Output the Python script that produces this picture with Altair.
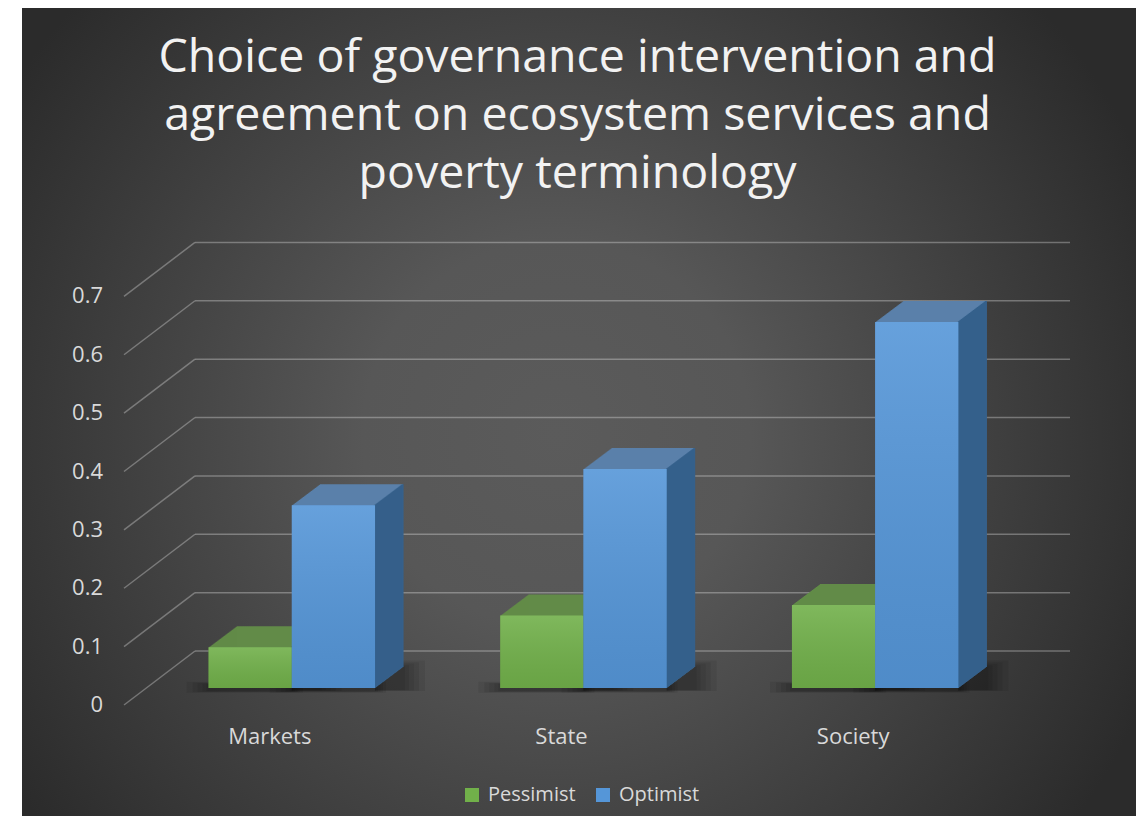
import altair as alt
import pandas as pd

# ---------------- data ----------------
categories = ["Markets", "State", "Society"]
series_names = ["Pessimist", "Optimist"]
pessimist = [0.07, 0.124, 0.142]
optimist = [0.313, 0.375, 0.627]
y_ticks = [0, 0.1, 0.2, 0.3, 0.4, 0.5, 0.6, 0.7]
title_lines = [
    "Choice of governance intervention and",
    "agreement on ecosystem services and",
    "poverty terminology",
]

# ---------------- style ----------------
W, H = 875, 467
PAD = {"left": 138, "top": 213, "right": 115, "bottom": 128}
BW = 0.2853                 # bar width in band units
DEPTH_X, DEPTH_Y = 28, 21   # bar depth (px)
FRONT_DX, FRONT_DY = -22, 17
BACK_DX, BACK_DY = 49, -37
FONT = "Open Sans"
TXT = "#d9d9d9"

front_col = {"Pessimist": "#71b04a", "Optimist": "#5596d8"}
top_col = {"Pessimist": "#628b48", "Optimist": "#5a80aa"}
side_col = {"Pessimist": "#4c7a33", "Optimist": "#35608b"}

rows = []
for i, c in enumerate(categories):
    for s, vals in zip(series_names, [pessimist, optimist]):
        rows.append({"category": c, "series": s, "value": vals[i], "idx": i})
bars = pd.DataFrame(rows)
ticks = pd.DataFrame({"v": y_ticks})
cats = pd.DataFrame({"category": categories, "idx": list(range(len(categories)))})
one = pd.DataFrame({"a": [0]})

xs = alt.Scale(domain=[0, len(categories)], nice=False, zero=False)
ys = alt.Scale(domain=[0, 0.8], nice=False, zero=True)

layers = []

# background with radial gradient
bg_grad = {
    "gradient": "radial",
    "x1": 0.48, "y1": 0.52, "r1": 0,
    "x2": 0.48, "y2": 0.52, "r2": 0.58,
    "stops": [
        {"offset": 0, "color": "#5b5b5b"},
        {"offset": 0.3, "color": "#575757"},
        {"offset": 1, "color": "#2b2b2b"},
    ],
}
layers.append(
    alt.Chart(one).mark_rect(fill=bg_grad).encode(
        x=alt.value(-124), x2=alt.value(W + 115),
        y=alt.value(-213), y2=alt.value(H + 128),
    )
)

# chart title (multi-line text)
layers.append(
    alt.Chart(one).mark_text(
        font=FONT, fontSize=46.5, color="#f2f2f2", align="center",
        baseline="alphabetic", lineHeight=58,
    ).encode(
        x=alt.value(W / 2 - 6), y=alt.value(-149),
        text=alt.value(title_lines),
    )
)

grid_style = dict(color="white", strokeOpacity=0.3, strokeWidth=1.5)
# diagonal (side wall) gridlines
layers.append(
    alt.Chart(ticks).mark_rule(yOffset=FRONT_DY, y2Offset=BACK_DY, **grid_style).encode(
        x=alt.value(FRONT_DX), x2=alt.value(BACK_DX),
        y=alt.Y("v:Q", scale=ys, axis=None), y2="v:Q",
    )
)
# back wall gridlines
layers.append(
    alt.Chart(ticks).mark_rule(yOffset=BACK_DY, **grid_style).encode(
        x=alt.value(BACK_DX), x2=alt.value(W + BACK_DX),
        y=alt.Y("v:Q", scale=ys, axis=None),
    )
)
# y labels
layers.append(
    alt.Chart(ticks).mark_text(align="right", baseline="middle", dy=FRONT_DY,
                               font=FONT, fontSize=22, color=TXT).encode(
        x=alt.value(-43),
        y=alt.Y("v:Q", scale=ys, axis=None),
        text=alt.Text("v:Q", format="~g"),
    )
)

def base(s):
    return alt.Chart(bars).transform_filter(
        f"datum.series == '{s}'"
    ).transform_calculate(
        left=f"datum.idx + 0.5 - (datum.series == 'Pessimist' ? {BW} : 0)",
    ).transform_calculate(
        right=f"datum.left + {BW}",
    )

# soft floor shadow
for s in series_names:
    for m in [22, 16, 11, 6, 2]:
        # band along the front bottom edge
        layers.append(
            base(s).mark_rect(color="black", opacity=0.07, xOffset=-m, x2Offset=m * 0.5,
                              yOffset=3 + m * 0.08, y2Offset=-4 - m * 0.1).encode(
                x=alt.X("left:Q", scale=xs, axis=None), x2="right:Q",
                y=alt.Y(datum=0, scale=ys, axis=None), y2=alt.Y2(datum=0),
            )
        )
        # behind the side face
        layers.append(
            base(s).mark_rect(color="black", opacity=0.07, xOffset=0, x2Offset=DEPTH_X + m,
                              yOffset=2 + m * 0.05, y2Offset=-DEPTH_Y - m * 0.3).encode(
                x=alt.X("right:Q", scale=xs, axis=None), x2="right:Q",
                y=alt.Y(datum=0, scale=ys, axis=None), y2=alt.Y2(datum=0),
            )
        )

shade = {
    "gradient": "linear", "x1": 0, "y1": 0, "x2": 0, "y2": 1,
    "stops": [
        {"offset": 0, "color": "rgba(255,255,255,0.10)"},
        {"offset": 1, "color": "rgba(0,0,0,0.07)"},
    ],
}

for s in series_names:
    # top face (extruded copies)
    for k in range(DEPTH_X + 1):
        dy = -k * DEPTH_Y / DEPTH_X
        layers.append(
            base(s).mark_rect(color=top_col[s], xOffset=k, x2Offset=k,
                              yOffset=dy, y2Offset=dy).encode(
                x=alt.X("left:Q", scale=xs, axis=None), x2="right:Q",
                y=alt.Y("value:Q", scale=ys, axis=None), y2=alt.Y2(datum=0),
            )
        )
    # side face
    for k in range(DEPTH_X + 1):
        dy = -k * DEPTH_Y / DEPTH_X
        layers.append(
            base(s).mark_rect(color=side_col[s], xOffset=k - 1.5, x2Offset=k + 0.5,
                              yOffset=dy, y2Offset=dy).encode(
                x=alt.X("right:Q", scale=xs, axis=None), x2="right:Q",
                y=alt.Y("value:Q", scale=ys, axis=None), y2=alt.Y2(datum=0),
            )
        )
    # front face
    layers.append(
        base(s).mark_rect().encode(
            x=alt.X("left:Q", scale=xs, axis=None), x2="right:Q",
            y=alt.Y("value:Q", scale=ys, axis=None), y2=alt.Y2(datum=0),
            color=alt.Color(
                "series:N",
                scale=alt.Scale(domain=series_names,
                                range=[front_col[n] for n in series_names]),
                legend=alt.Legend(
                    orient="none", legendX=316, legendY=564, direction="horizontal",
                    title=None, symbolType="square", symbolSize=196,
                    symbolStrokeWidth=0, symbolOpacity=1,
                    labelFont=FONT, labelFontSize=20, labelColor=TXT,
                    labelOffset=6, columnPadding=17, padding=0, labelLimit=400,
                ),
            ),
        )
    )
    layers.append(
        base(s).mark_rect(fill=shade).encode(
            x=alt.X("left:Q", scale=xs, axis=None), x2="right:Q",
            y=alt.Y("value:Q", scale=ys, axis=None), y2=alt.Y2(datum=0),
        )
    )

# category labels
layers.append(
    alt.Chart(cats).transform_calculate(cx="datum.idx + 0.5").mark_text(
        dx=FRONT_DX, dy=49, baseline="middle", font=FONT, fontSize=22, color=TXT
    ).encode(
        x=alt.X("cx:Q", scale=xs, axis=None),
        y=alt.value(H),
        text="category:N",
    )
)

chart = alt.layer(*layers).properties(
    width=W, height=H,
    padding=PAD,
    autosize=alt.AutoSizeParams(type="none"),
    background="white",
).configure_view(stroke=None)

chart.save("out.html", embed_options={"renderer": "svg", "actions": False})
